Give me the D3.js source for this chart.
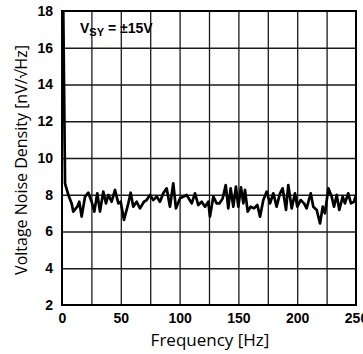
<!DOCTYPE html>
<html>
<head>
<meta charset="utf-8">
<script src="https://cdn.jsdelivr.net/npm/d3@7"></script>
<style>
  html, body { margin: 0; padding: 0; background: #fff; }
  svg { display: block; }
</style>
</head>
<body>
<svg id="chart" width="363" height="354"></svg>
<script>
// Noise spectrum: frequency (Hz) and voltage noise density (nV/√Hz)
const freq = [1, 2.6, 5.4, 8.2, 9.6, 13.0, 14.7, 16.7, 19.6, 22.4, 25.2, 27.5, 30.0, 32.3, 35.1, 37.4, 39.4, 42.2, 45.1, 47.9,
  49.9, 52.7, 56.4, 58.4, 60.6, 63.5, 66.3, 69.7, 72.0, 74.8, 77.6, 80.5, 83.3, 86.1, 89.0, 91.8, 94.6, 96.9,
  100.3, 106.0, 110.3, 113.1, 115.9, 118.8, 121.6, 124.4, 125.8, 128.7, 131.5, 133.8, 136.6, 139.2, 141.4, 143.4,
  145.7, 147.9, 149.9, 152.2, 154.2, 155.6, 157.9, 160.4, 163.3, 166.1, 168.4, 171.2, 174.0, 176.9, 179.7, 182.5,
  185.4, 187.6, 190.5, 192.4, 195.3, 198.1, 200.1, 202.9, 205.8, 208.0, 211.5, 213.7, 216.6, 219.4, 221.7, 223.6,
  226.5, 229.3, 231.3, 233.6, 235.8, 238.7, 240.6, 243.4, 245.7, 248.3, 250];
const noise = [18.5, 8.6, 7.99, 7.53, 7.08, 7.35, 7.62, 6.81, 7.90, 8.11, 7.62, 7.08, 8.08, 7.08, 8.17, 7.53, 7.99, 7.62, 8.26, 7.53,
  7.62, 6.63, 7.53, 8.11, 7.35, 7.62, 7.26, 7.62, 7.71, 7.99, 7.71, 7.90, 7.62, 8.08, 8.35, 7.35, 8.62, 7.26,
  7.80, 7.99, 7.53, 8.08, 7.44, 7.62, 7.35, 7.62, 6.81, 7.90, 7.53, 7.53, 7.80, 8.53, 7.26, 8.35,
  7.35, 8.44, 7.35, 8.40, 7.53, 8.26, 7.08, 7.35, 7.26, 7.44, 6.81, 7.71, 8.17, 7.53, 8.08, 7.35,
  8.08, 8.35, 7.17, 8.53, 7.26, 8.08, 7.35, 7.71, 7.53, 7.26, 8.08, 7.35, 7.17, 6.44, 7.35, 6.99,
  8.35, 7.90, 7.35, 7.99, 7.17, 7.90, 7.53, 8.08, 7.53, 7.62, 7.99];

const xTicks = [0, 50, 100, 150, 200, 250];
const xGrid = [25, 50, 75, 100, 125, 150, 175, 200, 225];
const yTicks = [2, 4, 6, 8, 10, 12, 14, 16, 18];

const svg = d3.select("#chart");
const m = { left: 62, top: 11, right: 7, bottom: 49 };
const W = 363 - m.left - m.right;
const H = 354 - m.top - m.bottom;

const x = d3.scaleLinear().domain([0, 250]).range([0, W]);
const y = d3.scaleLinear().domain([2, 18]).range([H, 0]);

const g = svg.append("g").attr("transform", `translate(${m.left},${m.top})`);

// grid
g.append("g")
  .call(d3.axisBottom(x).tickValues(xGrid).tickSize(-H).tickFormat(""))
  .attr("transform", `translate(0,${H})`)
  .call(a => a.select(".domain").remove())
  .selectAll("line").attr("stroke", "#1a1a1a").attr("stroke-width", 1.3);
g.append("g")
  .call(d3.axisLeft(y).tickValues(yTicks.slice(1, -1)).tickSize(-W).tickFormat(""))
  .call(a => a.select(".domain").remove())
  .selectAll("line").attr("stroke", "#1a1a1a").attr("stroke-width", 1.3);

// tick labels
g.append("g")
  .attr("transform", `translate(0,${H})`)
  .call(d3.axisBottom(x).tickValues(xTicks).tickSize(0).tickPadding(8))
  .call(a => a.select(".domain").remove())
  .selectAll("text")
  .attr("font-family", "Liberation Sans, Arial, sans-serif")
  .attr("font-weight", "bold").attr("font-size", 14).attr("fill", "#000");
g.append("g")
  .call(d3.axisLeft(y).tickValues(yTicks).tickSize(0).tickPadding(9))
  .call(a => a.select(".domain").remove())
  .selectAll("text")
  .attr("font-family", "Liberation Sans, Arial, sans-serif")
  .attr("font-weight", "bold").attr("font-size", 14).attr("fill", "#000");

// data line
g.append("clipPath").attr("id", "plotclip")
  .append("rect").attr("width", W).attr("height", H);
const pts = freq.map((f, i) => [f, noise[i]]);
g.append("path")
  .datum(pts)
  .attr("clip-path", "url(#plotclip)")
  .attr("fill", "none")
  .attr("stroke", "#000")
  .attr("stroke-width", 2.7)
  .attr("stroke-linejoin", "round")
  .attr("d", d3.line().x(d => x(d[0])).y(d => y(d[1])));

// frame
g.append("rect").attr("width", W).attr("height", H)
  .attr("fill", "none").attr("stroke", "#000").attr("stroke-width", 2);

// annotation
const ann = g.append("text")
  .attr("x", 18).attr("y", 22)
  .attr("font-family", "Liberation Sans, Arial, sans-serif")
  .attr("font-weight", "bold").attr("font-size", 14).attr("fill", "#000");
ann.append("tspan").text("V");
ann.append("tspan").attr("font-size", 11).attr("dy", 3).text("SY");
ann.append("tspan").attr("dy", -3).text(" = ±15V");

// axis titles
svg.append("text")
  .attr("x", 210).attr("y", 346)
  .attr("text-anchor", "middle")
  .attr("font-family", "Open Sans, Noto Sans, sans-serif")
  .attr("font-size", 17).attr("fill", "#000")
  .text("Frequency [Hz]");
svg.append("text")
  .attr("transform", "translate(27,160) rotate(-90)")
  .attr("text-anchor", "middle")
  .attr("font-family", "Open Sans, Noto Sans, sans-serif")
  .attr("font-size", 16).attr("fill", "#000")
  .text("Voltage Noise Density [nV/√Hz]");
</script>
</body>
</html>
